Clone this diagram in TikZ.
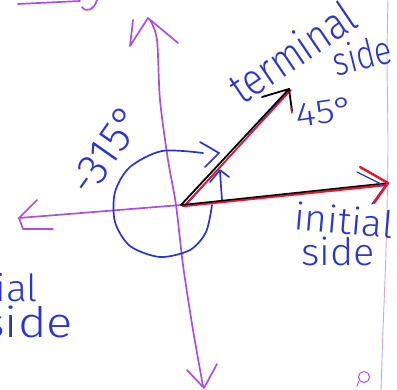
\documentclass[tikz,border=0pt]{standalone}
\usepackage{fontspec}
\setmainfont{Fira Sans}[UprightFont=* Light]
\definecolor{axis}{RGB}{172,78,222}
\definecolor{hblue}{RGB}{42,52,208}
\definecolor{hred}{RGB}{232,22,44}
\definecolor{edge}{RGB}{205,165,232}
\tikzset{
  axisline/.style={draw=axis, line width=1.7pt},
  blueline/.style={draw=hblue, line width=1.7pt},
  ray/.style={draw=black, line width=1.8pt},
  redray/.style={draw=hred, line width=1.6pt},
  hand/.style={text=hblue, inner sep=0pt},
}
\begin{document}
\begin{tikzpicture}[x=1pt,y=-1pt,line cap=round,line join=round]
\useasboundingbox (0,0) rectangle (397,390);
% paper edge
\draw[edge, line width=0.9pt] plot[smooth] coordinates {(388,0) (387,60) (388,150) (386,250) (383,330) (381,390)};
% top-left scribble
\draw[axisline] (18,4) -- (80,1);
\draw[axisline] (82,7) .. controls (86,13) and (94,10) .. (97,0);
% bottom scribble
\draw[axis, line width=1pt] (364,377) circle (5.5);
\draw[axis, line width=1pt] (359,381) -- (357,386);
% vertical axis
\coordinate (vtop) at (150,20);
\coordinate (vbot) at (203,386);
\draw[axisline] plot[smooth] coordinates {(vtop) (157,40) (160,100) (168,160) (176,205) (183,265) (193,330) (vbot)};
\draw[axisline] (133,20) -- (130,46) -- (148,18) -- (178,43);
\draw[axisline] (187,370) -- (204,388) -- (217,364);
% horizontal axis (left)
\coordinate (O) at (181,205);
\coordinate (hleft) at (19,218);
\draw[axisline] (O) -- (hleft);
\draw[axisline] (37,200) -- (hleft) -- (23,229) -- (53,229);
% circle arc -315
\draw[blueline] plot[smooth] coordinates {(212,205) (206,232) (190,250) (160,257) (130,246) (115,222) (115,192) (130,167) (162,151) (203,153)};
\draw[blueline] (200,142) -- (219,153) -- (205,167);
% small 45 arrow
\draw[blueline] (222,200) -- (220,172);
\draw[blueline] (210,182) -- (220,170) -- (229,177);
% terminal ray
\coordinate (T) at (289,89);
\draw[blueline, line width=1.4pt] (186,205) -- (288,92);
\draw[redray] (184,206) -- (291,90);
\draw[ray] (O) -- (T);
\draw[ray] (262,97) -- (T) -- (292,111);
\draw[hred, line width=1.4pt] (291,108) -- (292,113);
% initial ray
\coordinate (I) at (388,183);
\draw[redray, line width=2.4pt] (183,206) -- (386,185);
\draw[ray, line width=1.5pt] (O) -- (I);
\draw[blueline, line width=1.3pt] (357,172) -- (385,186) -- (372,204);
\draw[redray, line width=2.4pt] (360,167) -- (I) -- (374,203);
% labels
\node[hand, rotate=34, font=\fontsize{38}{40}\selectfont] (term) at (292,52) {\scalebox{1}[1.17]{terminal}};
\node[hand, rotate=14, font=\fontsize{38}{40}\selectfont] (side1) at (362,55) {\scalebox{0.85}[1.05]{side}};
\node[hand, rotate=8, font=\fontsize{34}{36}\selectfont] (a45) at (325,112) {\scalebox{1.15}[1]{45°}};
\node[hand, rotate=55, font=\fontsize{44}{46}\selectfont] (a315) at (106,150) {-315°};
\node[hand, rotate=-5, font=\fontsize{34}{36}\selectfont] (init) at (344,220) {\scalebox{1.15}[1.1]{initial}};
\node[hand, font=\fontsize{36}{38}\selectfont] (side2) at (338,251) {\scalebox{1.1}[1.05]{side}};
\node[hand, anchor=base east, font=\fontsize{34}{36}\selectfont] (init2) at (38,302) {\scalebox{1.15}[1.1]{initial}};
\node[hand, anchor=base east, font=\fontsize{40}{42}\selectfont] (side3) at (73,338) {\scalebox{1.22}[1.05]{side}};
\end{tikzpicture}
\end{document}
